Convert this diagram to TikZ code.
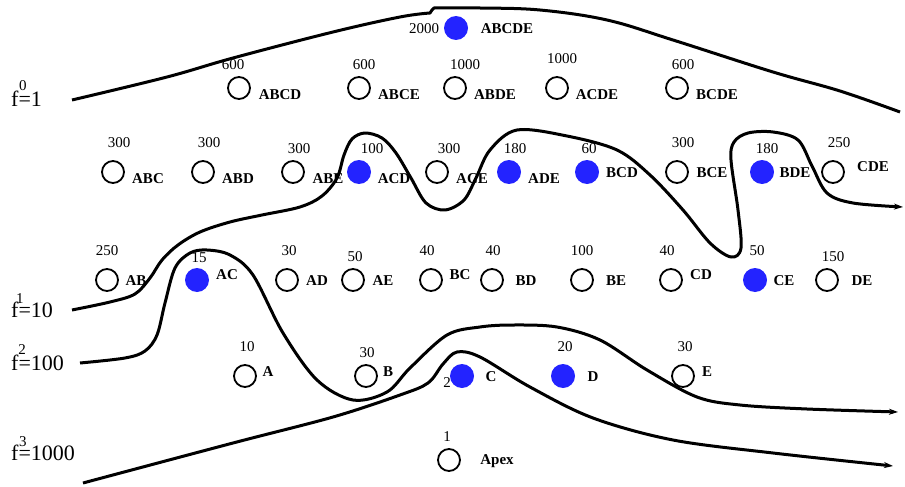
\documentclass[tikz,border=0pt]{standalone}
\usepackage{fontspec}
\setmainfont{Liberation Serif}
\usetikzlibrary{arrows.meta}
\definecolor{nodeblue}{RGB}{35,35,255}
\begin{document}
\begin{tikzpicture}[x=1pt,y=-1pt,
  stopen/.style={circle,draw=black,line width=1.8pt,minimum size=22pt,inner sep=0pt},
  stfull/.style={circle,fill=nodeblue,minimum size=24pt,inner sep=0pt},
  val/.style={font=\fontsize{15}{15}\selectfont,inner sep=0pt},
  lab/.style={font=\fontsize{15}{15}\selectfont\bfseries,inner sep=0pt},
  flab/.style={font=\fontsize{22}{22}\selectfont,inner sep=0pt,anchor=west},
  fsup/.style={font=\fontsize{15}{15}\selectfont,inner sep=0pt},
  border/.style={line width=3pt,line join=round},
  tip/.style={-{Stealth[length=9pt,width=6pt]}}]
\useasboundingbox (0,0) rectangle (905,487);

% level curves
\draw[border] plot[smooth,tension=0.6] coordinates {(72,100)(167,77)(233,58)(333,32)(400,17)(430,13)}
  -- (432,10) -- plot[smooth,tension=0.6] coordinates {(434,8)(480,8)(540,10)(607,20)(673,40)(773,72)(840,91)(900,112)};

\draw[border,tip] plot[smooth,tension=0.55] coordinates {(72,310)(110,302)(135,294)(150,278)(162,260)(178,245)(200,232)(230,222)(262,215)(300,207)(322,196)(337,178)(344,155)(352,139)(365,133)(382,138)(396,153)(411,178)(426,203)(445,210)(464,200)(476,178)(490,150)(517,130)(567,136)(617,150)(650,175)(683,210)(710,243)(731,257)(741,248)(738,210)(731,160)(734,142)(748,133)(773,132)(798,140)(812,166)(827,193)(853,203)(903,207)};

\draw[border,tip] plot[smooth,tension=0.55] coordinates {(80,363)(125,358)(145,351)(157,335)(165,303)(175,268)(190,253)(207,250)(230,255)(253,275)(283,333)(317,380)(353,400)(387,392)(410,368)(447,335)(480,327)(513,325)(557,327)(600,340)(647,370)(697,397)(740,405)(807,409)(898,412)};

\draw[border,tip] plot[smooth,tension=0.55] coordinates {(83,483)(233,443)(333,417)(400,395)(428,383)(443,364)(457,352)(480,357)(530,387)(593,418)(673,440)(773,453)(893,466)};

% level labels
\node[flab] (f0) at (11,99) {f=1};
\node[fsup] (f0s) at (23,86) {0};
\node[flab] (f1) at (11,310) {f=10};
\node[fsup] (f1s) at (20,299) {1};
\node[flab] (f2) at (11,363) {f=100};
\node[fsup] (f2s) at (22,350) {2};
\node[flab] (f3) at (11,453) {f=1000};
\node[fsup] (f3s) at (23,442) {3};

% lattice nodes
\foreach \n/\x/\y/\s/\nx/\ny/\v/\lx/\ly in {
ABCDE/456/28/stfull/424/29/2000/507/29,
ABCD/239/88/stopen/233/65/600/280/95,
ABCE/359/88/stopen/364/65/600/399/95,
ABDE/455/88/stopen/465/65/1000/495/95,
ACDE/557/88/stopen/562/59/1000/597/95,
BCDE/677/88/stopen/683/65/600/717/95,
ABC/113/172/stopen/119/143/300/148/179,
ABD/203/172/stopen/209/143/300/238/179,
ABE/293/172/stopen/299/149/300/328/179,
ACD/359/172/stfull/372/149/100/394/179,
ACE/437/172/stopen/449/149/300/472/179,
ADE/509/172/stfull/515/149/180/544/179,
BCD/587/172/stfull/589/149/60/622/173,
BCE/677/172/stopen/683/143/300/712/173,
BDE/762/172/stfull/767/149/180/795/173,
CDE/833/172/stopen/839/143/250/873/167,
AB/107/280/stopen/107/251/250/136/281,
AC/197/280/stfull/199/258/15/227/275,
AD/287/280/stopen/289/251/30/317/281,
AE/353/280/stopen/355/257/50/383/281,
BC/431/280/stopen/427/251/40/460/275,
BD/492/280/stopen/493/251/40/526/281,
BE/582/280/stopen/582/251/100/616/281,
CD/671/280/stopen/667/251/40/701/275,
CE/755/280/stfull/757/251/50/784/281,
DE/827/280/stopen/833/257/150/862/281,
A/245/376/stopen/247/347/10/268/372,
B/366/376/stopen/367/353/30/388/372,
C/462/376/stfull/447/383/2/491/377,
D/563/376/stfull/565/347/20/593/377,
E/683/376/stopen/685/347/30/707/372,
Apex/449/460/stopen/447/437/1/497/461}
{
  \node[val] (\n-v) at (\nx,\ny) {\v};
  \node[lab] (\n-l) at (\lx,\ly) {\n};
  \node[\s] (\n) at (\x,\y) {};
}
\end{tikzpicture}
\end{document}
